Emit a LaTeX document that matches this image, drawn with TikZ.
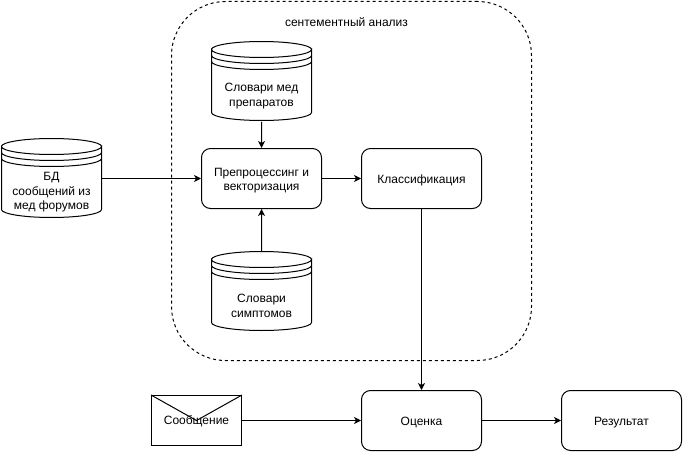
\documentclass[tikz,border=0pt]{standalone}
\usepackage{fontspec}
\setmainfont{Liberation Sans}
\usetikzlibrary{arrows.meta}
\tikzset{
  lbl/.style={font=\fontsize{12}{14.5}\selectfont, align=center, inner sep=0pt, text=black},
  procbox/.style={draw=black, line width=1pt, rounded corners=9pt, minimum width=120pt, minimum height=60pt, inner sep=0pt},
  boxtext/.style={label={[lbl,yshift=-2pt]center:{#1}}},
  holder/.style={minimum width=100pt, minimum height=80pt, inner sep=0pt},
  flow/.style={draw=black, line width=1pt, -{Stealth[length=7pt,width=7pt,inset=2pt]}},
  shapeline/.style={draw=black, line width=1pt},
}
\newcommand{\datastore}[5]{% name, left x, top y, text y, text
  \node[holder, anchor=north west] (#1) at (#2,#3) {};
  \draw[shapeline, fill=white] (#2,#3+8) arc[start angle=180,end angle=360,x radius=50pt,y radius=8pt]
     -- (#2+100,#3+71) arc[start angle=0,end angle=180,x radius=50pt,y radius=-8pt] -- cycle;
  \draw[shapeline] (#2,#3+8) arc[start angle=180,end angle=0,x radius=50pt,y radius=8pt];
  \draw[shapeline] (#2,#3+14) arc[start angle=180,end angle=360,x radius=50pt,y radius=8pt];
  \draw[shapeline] (#2,#3+20) arc[start angle=180,end angle=360,x radius=50pt,y radius=8pt];
  \node[lbl] (#1t) at (#2+50,#4) {#5};
}
\begin{document}
\begin{tikzpicture}[x=1pt,y=-1pt]
\useasboundingbox (0,0) rectangle (683,452);
\fill[white] (0,0) rectangle (683,452);
\node[draw=black, line width=1pt, dash pattern=on 3pt off 3pt, rounded corners=54pt, minimum width=360pt, minimum height=359pt, inner sep=0pt] (group) at (351.5,181) {};
\node[lbl] (grouplabel) at (346.5,22) {сентементный анализ};
\datastore{dbforum}{1.5}{138.5}{192.5}{БД\\сообщений из\\мед форумов}
\datastore{dbmed}{211.5}{41.5}{96}{Словари мед\\препаратов}
\datastore{dbsym}{211.5}{251.5}{306}{Словари\\симптомов}
\node[procbox, boxtext={Препроцессинг и\\векторизация}] (prep) at (261.5,178.5) {};
\node[procbox, boxtext={Классификация}] (cls) at (421.5,178.5) {};
\node[procbox, boxtext={Оценка}] (eval) at (421.5,420.5) {};
\node[procbox, boxtext={Результат}] (res) at (621.5,420.5) {};
\node[draw=black, line width=1pt, minimum width=90pt, minimum height=50pt, inner sep=0pt] (msg) at (196.5,420.5) {};
\draw[shapeline] (msg.north west) -- (msg.center) -- (msg.north east);
\node[lbl, yshift=-1pt] (msgt) at (msg.center) {Сообщение};
\draw[flow] (dbforum.east |- prep.west) -- (prep.west);
\draw[flow] (dbmed.south) -- (prep.north);
\draw[flow] (dbsym.north) -- (prep.south);
\draw[flow] (prep) -- (cls);
\draw[flow] (cls) -- (eval);
\draw[flow] (msg) -- (eval);
\draw[flow] (eval) -- (res);
\end{tikzpicture}
\end{document}
